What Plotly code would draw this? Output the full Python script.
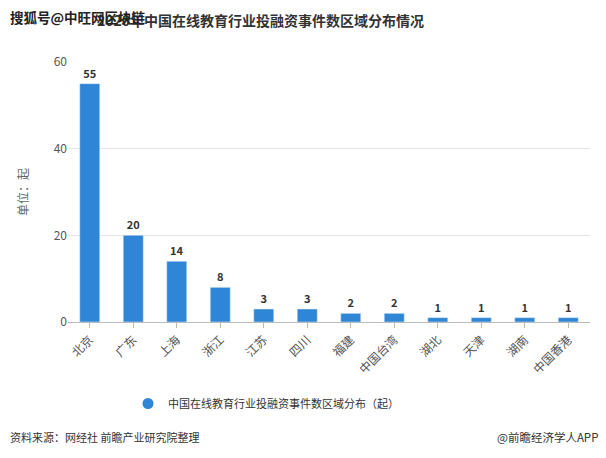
import plotly.graph_objects as go

regions = ["北京", "广东", "上海", "浙江", "江苏", "四川", "福建", "中国台湾", "湖北", "天津", "湖南", "中国香港"]
counts = [55, 20, 14, 8, 3, 3, 2, 2, 1, 1, 1, 1]
series_name = "中国在线教育行业投融资事件数区域分布（起）"
y_ticks = [0, 20, 40, 60]

FONT = "Noto Sans CJK SC"
W, H = 606, 458
ML, MR, MT, MB = 68, 16, 62, 136
PW, PH = W - ML - MR, H - MT - MB


def px(x):
    return (x - ML) / PW


def py(y):
    return (H - MB - y) / PH


fig = go.Figure()
fig.add_trace(go.Bar(
    x=regions, y=counts, name=series_name,
    marker=dict(color="#2f86d6"),
    width=0.46,
    text=["<b>%d</b>" % v for v in counts], textposition="outside",
    textfont=dict(family=FONT, size=11, color="#333333"),
    cliponaxis=False,
    showlegend=False,
))
fig.add_trace(go.Scatter(
    x=[None], y=[None], mode="markers", name=series_name,
    marker=dict(symbol="circle", size=11, color="#2f86d6"),
    showlegend=True,
))

fig.update_layout(
    width=W, height=H,
    margin=dict(l=ML, r=MR, t=MT, b=MB),
    paper_bgcolor="white", plot_bgcolor="white",
    font=dict(family=FONT, size=11, color="#555555"),
    legend=dict(orientation="h", x=px(128), xanchor="left", y=py(389), yanchor="top",
                font=dict(family=FONT, size=11, color="#333333"), itemwidth=30),
    xaxis=dict(
        tickangle=-45, showline=True, linecolor="#bbbbbb", ticks="outside",
        tickcolor="#bbbbbb", ticklen=5,
        tickfont=dict(family=FONT, size=12, color="#555555"),
    ),
    yaxis=dict(
        range=[0, 60], tickvals=y_ticks, showgrid=True, gridcolor="#e6e6e6",
        zeroline=False, tickfont=dict(family=FONT, size=12, color="#555555"),
        title=dict(text="单位：起", font=dict(family=FONT, size=12, color="#666666"), standoff=22),
    ),
    annotations=[
        dict(text="<b>2020年中国在线教育行业投融资事件数区域分布情况</b>", x=px(95), y=py(20),
             xanchor="left", yanchor="middle",
             showarrow=False, font=dict(family=FONT, size=14, color="#333333")),
        dict(text="<b>搜狐号@中旺网区块链</b>", x=px(8), y=py(17), xanchor="left", yanchor="middle",
             showarrow=False, font=dict(family=FONT, size=13.5, color="#222222")),
        dict(text="资料来源：网经社 前瞻产业研究院整理", x=px(8), y=py(437), xanchor="left", yanchor="middle",
             showarrow=False, font=dict(family=FONT, size=11, color="#333333")),
        dict(text="@前瞻经济学人APP", x=px(600), y=py(437), xanchor="right", yanchor="middle",
             showarrow=False, font=dict(family=FONT, size=11.5, color="#333333")),
    ],
)
for a in fig.layout.annotations:
    a.xref = "paper"
    a.yref = "paper"

fig.write_html("out.html")
